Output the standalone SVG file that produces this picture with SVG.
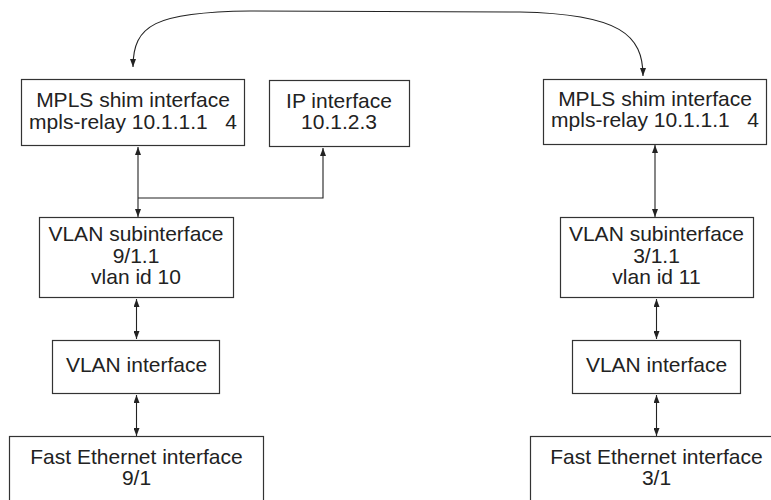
<svg xmlns="http://www.w3.org/2000/svg" width="771" height="500" viewBox="0 0 771 500">
<style>
.box{fill:#fff;stroke:#333;stroke-width:1.2}
.t{font-family:"Liberation Sans",Arial,sans-serif;font-size:21px;fill:#222;text-anchor:middle}
.c{fill:none;stroke:#222;stroke-width:1.1}
</style>
<defs>
<marker id="ah" viewBox="0 0 8 6" refX="8" refY="3" markerWidth="8" markerHeight="6" markerUnits="userSpaceOnUse" orient="auto-start-reverse">
<path d="M0,0 L8,3 L0,6 z" fill="#222"/>
</marker>
</defs>
<rect width="771" height="500" fill="#fff"/>
<g id="connectors">
<path class="c" d="M133,67 C133,25 155,12 250,11 L520,12 C620,14 643,35 643,76" marker-start="url(#ah)" marker-end="url(#ah)"/>
<line class="c" x1="138" y1="147" x2="138" y2="217" marker-start="url(#ah)" marker-end="url(#ah)"/>
<polyline class="c" points="138,198 323,198 323,148" marker-end="url(#ah)"/>
<line class="c" x1="655" y1="145" x2="655" y2="217" marker-start="url(#ah)" marker-end="url(#ah)"/>
<line class="c" x1="136.5" y1="299" x2="136.5" y2="339" marker-start="url(#ah)" marker-end="url(#ah)"/>
<line class="c" x1="136.5" y1="395" x2="136.5" y2="436" marker-start="url(#ah)" marker-end="url(#ah)"/>
<line class="c" x1="656.5" y1="299" x2="656.5" y2="339" marker-start="url(#ah)" marker-end="url(#ah)"/>
<line class="c" x1="656.5" y1="395" x2="656.5" y2="436" marker-start="url(#ah)" marker-end="url(#ah)"/>
</g>
<g id="mpls-left">
<rect class="box" x="21.5" y="79.5" width="223" height="66"/>
<text class="t" x="133" y="107">MPLS shim interface</text>
<text class="t" x="133" y="129" xml:space="preserve">mpls-relay 10.1.1.1   4</text>
</g>
<g id="ip">
<rect class="box" x="269.5" y="80.5" width="140" height="66"/>
<text class="t" x="339" y="108">IP interface</text>
<text class="t" x="339" y="129">10.1.2.3</text>
</g>
<g id="mpls-right">
<rect class="box" x="543.5" y="79.5" width="223" height="65"/>
<text class="t" x="655" y="106">MPLS shim interface</text>
<text class="t" x="655" y="127" xml:space="preserve">mpls-relay 10.1.1.1   4</text>
</g>
<g id="vlansub-left">
<rect class="box" x="39.5" y="217.5" width="194" height="80"/>
<text class="t" x="136" y="241">VLAN subinterface</text>
<text class="t" x="136" y="262.5">9/1.1</text>
<text class="t" x="136" y="284">vlan id 10</text>
</g>
<g id="vlansub-right">
<rect class="box" x="560.5" y="217.5" width="193" height="80"/>
<text class="t" x="656.5" y="241">VLAN subinterface</text>
<text class="t" x="656.5" y="262.5">3/1.1</text>
<text class="t" x="656.5" y="284">vlan id 11</text>
</g>
<g id="vlan-left">
<rect class="box" x="52.5" y="340.5" width="167" height="53"/>
<text class="t" x="136.5" y="372">VLAN interface</text>
</g>
<g id="vlan-right">
<rect class="box" x="572.5" y="340.5" width="168" height="53"/>
<text class="t" x="656.5" y="372">VLAN interface</text>
</g>
<g id="fe-left">
<rect class="box" x="9.5" y="436.5" width="254" height="80"/>
<text class="t" x="136.5" y="463.5">Fast Ethernet interface</text>
<text class="t" x="136.5" y="485">9/1</text>
</g>
<g id="fe-right">
<rect class="box" x="530.5" y="436.5" width="254" height="80"/>
<text class="t" x="656.5" y="463.5">Fast Ethernet interface</text>
<text class="t" x="656.5" y="485">3/1</text>
</g>
</svg>
